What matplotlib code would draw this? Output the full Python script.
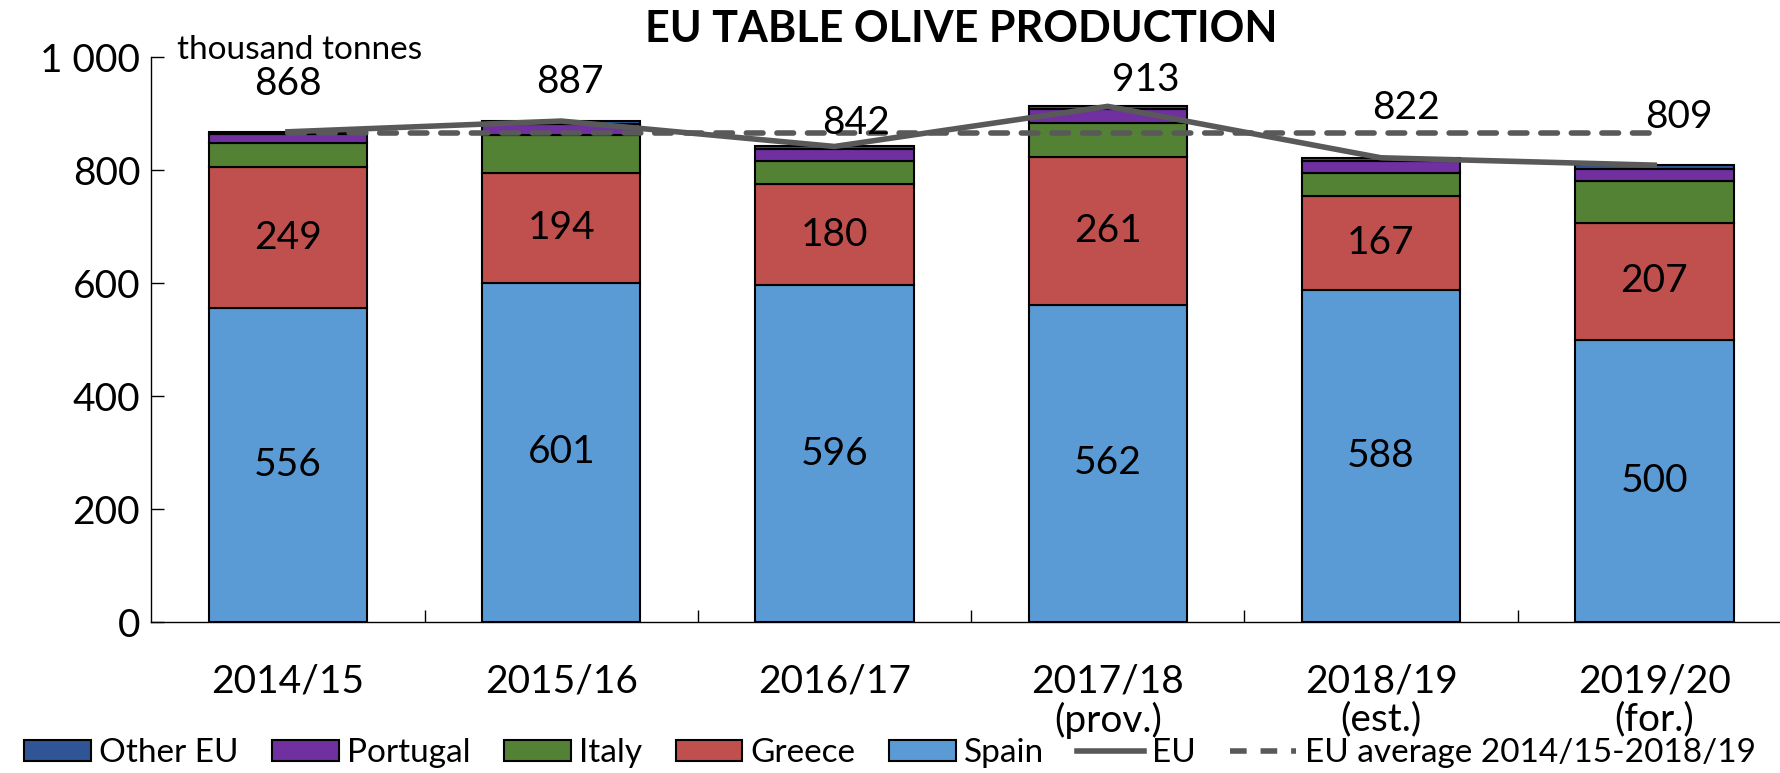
import matplotlib
matplotlib.use("Agg")
import matplotlib.pyplot as plt
import numpy as np
from matplotlib.patches import Patch
from matplotlib.lines import Line2D

plt.rcParams['font.family'] = ['Lato', 'DejaVu Sans']

categories = ["2014/15", "2015/16", "2016/17", "2017/18\n(prov.)", "2018/19\n(est.)", "2019/20\n(for.)"]
spain = [556, 601, 596, 562, 588, 500]
greece = [249, 194, 180, 261, 167, 207]
italy = [43, 67, 40, 60, 40, 74]
portugal = [16, 20, 21, 25, 21, 22]
other_eu = [4, 5, 5, 5, 6, 6]
eu_total = [868, 887, 842, 913, 822, 809]
eu_avg_value = 866

# label offsets (data units) for the EU total labels
lab_dy = [84, 69, 42, 47, 88, 85]
lab_dx = [0, 0.03, 0.08, 0.14, 0.09, 0.09]

c_spain = "#5B9BD5"
c_greece = "#C0504D"
c_italy = "#548235"
c_port = "#7030A0"
c_other = "#2F5597"
c_line = "#595959"

fig = plt.figure(figsize=(17.8, 7.73), dpi=100)
ax = fig.add_axes([0.085, 0.195, 0.915, 0.731])

x = np.arange(len(categories))
w = 0.58
bottom = np.zeros(len(x))
series = [(spain, c_spain, "Spain"), (greece, c_greece, "Greece"), (italy, c_italy, "Italy"),
          (portugal, c_port, "Portugal"), (other_eu, c_other, "Other EU")]
for vals, col, name in series:
    ax.bar(x, vals, w, bottom=bottom, color=col, edgecolor="black", linewidth=1.5, zorder=2)
    bottom += np.array(vals)

# segment labels
sp = np.array(spain); gr = np.array(greece)
for i in range(len(x)):
    ax.text(x[i], sp[i] / 2, f"{spain[i]}", ha="center", va="center", fontsize=28, zorder=5)
    ax.text(x[i], sp[i] + gr[i] / 2, f"{greece[i]}", ha="center", va="center", fontsize=28, zorder=5)

ax.plot(x, eu_total, color=c_line, linewidth=4, zorder=4, solid_joinstyle="miter")
ax.plot([x[0], x[-1]], [eu_avg_value, eu_avg_value], color=c_line, linewidth=4,
        linestyle=(0, (3, 2.5)), dash_capstyle="round", zorder=3)
for i in range(len(x)):
    ax.text(x[i] + lab_dx[i], eu_total[i] + lab_dy[i], f"{eu_total[i]}", ha="center", va="center",
            fontsize=28, zorder=5)

ax.set_xlim(-0.5, 5.46)
ax.set_ylim(0, 1000)
ax.set_yticks([0, 200, 400, 600, 800, 1000])
ax.set_yticklabels(["0", "200", "400", "600", "800", "1 000"], fontsize=28)
ax.set_xticks(x)
ax.set_xticklabels(categories, fontsize=28, linespacing=1.05)
ax.set_xticks(x[:-1] + 0.5, minor=True)
ax.tick_params(axis="x", which="major", length=0, pad=30)
ax.tick_params(axis="x", which="minor", direction="in", length=9, width=1)
ax.tick_params(axis="y", direction="in", length=9, width=1, pad=8)
for s in ["top", "right"]:
    ax.spines[s].set_visible(False)
ax.spines["left"].set_linewidth(1)
ax.spines["bottom"].set_linewidth(1)

ax.text(0.016, 1.012, "thousand tonnes", transform=ax.transAxes, fontsize=24, ha="left", va="center")
fig.text(0.54, 0.963, "EU TABLE OLIVE PRODUCTION", ha="center", va="center", fontsize=31, fontweight="bold")

handles = [Patch(facecolor=c_other, edgecolor="black", linewidth=1.5, label="Other EU"),
           Patch(facecolor=c_port, edgecolor="black", linewidth=1.5, label="Portugal"),
           Patch(facecolor=c_italy, edgecolor="black", linewidth=1.5, label="Italy"),
           Patch(facecolor=c_greece, edgecolor="black", linewidth=1.5, label="Greece"),
           Patch(facecolor=c_spain, edgecolor="black", linewidth=1.5, label="Spain"),
           Line2D([], [], color=c_line, linewidth=4, label="EU"),
           Line2D([], [], color=c_line, linewidth=4, linestyle=(0, (3, 2.5)), label="EU average 2014/15-2018/19")]
leg = fig.legend(handles=handles, loc="center", bbox_to_anchor=(0.5, 0.026), ncol=7, frameon=False,
                 fontsize=24, handlelength=2.0, handleheight=0.6, columnspacing=1.0, handletextpad=0.25)
leg.set_zorder(10)

fig.savefig("out.png", dpi=100)
